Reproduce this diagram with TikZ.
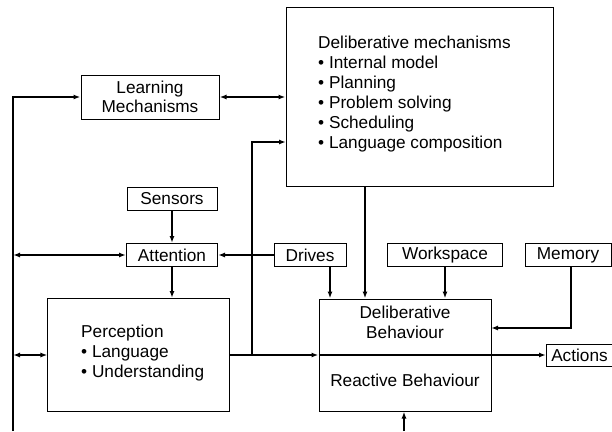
\documentclass[tikz,border=0pt]{standalone}
\usepackage{fontspec}
\setmainfont{Liberation Sans}
\usetikzlibrary{arrows.meta}
\begin{document}
\begin{tikzpicture}[x=1bp,y=-1bp,
  box/.style={draw,line width=1bp,inner sep=0pt,font=\fontsize{17.3}{20}\selectfont,align=center},
  txt/.style={inner sep=0pt,font=\fontsize{17.3}{20}\selectfont,align=left},
  conn/.style={line width=1.5bp},
  arr/.style={conn,-{Latex[length=7bp,width=5bp]}},
  darr/.style={conn,{Latex[length=7bp,width=5bp]}-{Latex[length=7bp,width=5bp]}}]
\useasboundingbox (0,0) rectangle (612,431);
\clip (0,0) rectangle (612,431);
% boxes
\node[box,minimum width=138bp,minimum height=44bp] (lm) at (150,97) {Learning\\[-1pt]Mechanisms};
\node[box,minimum width=267bp,minimum height=179bp] (dm) at (419.5,97) {};
\node[txt,anchor=north west] (dmt) at (318,36) {Deliberative mechanisms\\%
• Internal model\\• Planning\\• Problem solving\\• Scheduling\\• Language composition};
\node[box,minimum width=90bp,minimum height=23bp] (sen) at (172,199) {Sensors};
\node[box,minimum width=91bp,minimum height=23bp] (att) at (172,255) {Attention};
\node[box,minimum width=72bp,minimum height=23bp] (dri) at (310,255) {Drives};
\node[box,minimum width=115bp,minimum height=23bp] (wor) at (445,255) {Workspace};
\node[box,minimum width=86bp,minimum height=23bp] (mem) at (568,255) {Memory};
\node[box,minimum width=181bp,minimum height=113bp] (per) at (138.5,355) {};
\node[txt,anchor=north west] (pert) at (81,325) {Perception\\• Language\\• Understanding};
\node[box,minimum width=172bp,minimum height=112bp] (beh) at (405,355) {};
\node[txt,align=center,anchor=north] (deb) at (405,306) {Deliberative\\Behaviour};
\node[txt,anchor=north] (reb) at (405,374) {Reactive Behaviour};
\node[box,minimum width=70bp,minimum height=22bp,anchor=west] (act) at (546,355) {\hspace*{-4bp}Actions};
% coordinates
\coordinate (lb) at (13,431);
\coordinate (jn) at (252,355);
\coordinate (dmin) at (286,142);
\coordinate (dmout) at (365,186);
\coordinate (drout) at (330,266);
\coordinate (memout) at (571,266);
\coordinate (memin) at (491,328);
\coordinate (bb) at (404,431);
% connectors
\draw[arr] (lb) |- (lm.west);
\draw[darr] (lm.east) -- (lm.east -| dm.west);
\draw[arr] (jn) |- (dmin);
\draw[arr] (sen.south) -- (sen.south |- att.north);
\draw[darr] (att.west -| lb) -- (att.west);
\draw[arr] (dri.west) -- (att.east);
\draw[arr] (att.south) -- (att.south |- per.north);
\draw[darr] (per.west -| lb) -- (per.west);
\draw[arr] (per.east |- jn) -- (beh.west |- jn);
\draw[conn] (beh.west) -- (beh.east);
\draw[arr] (beh.east) -- (act.west);
\draw[arr] (dmout) -- (dmout |- beh.north);
\draw[arr] (drout) -- (drout |- beh.north);
\draw[arr] (wor.south) -- (wor.south |- beh.north);
\draw[arr] (memout) |- (memin);
\draw[arr] (bb) -- (bb |- beh.south);
\end{tikzpicture}
\end{document}
